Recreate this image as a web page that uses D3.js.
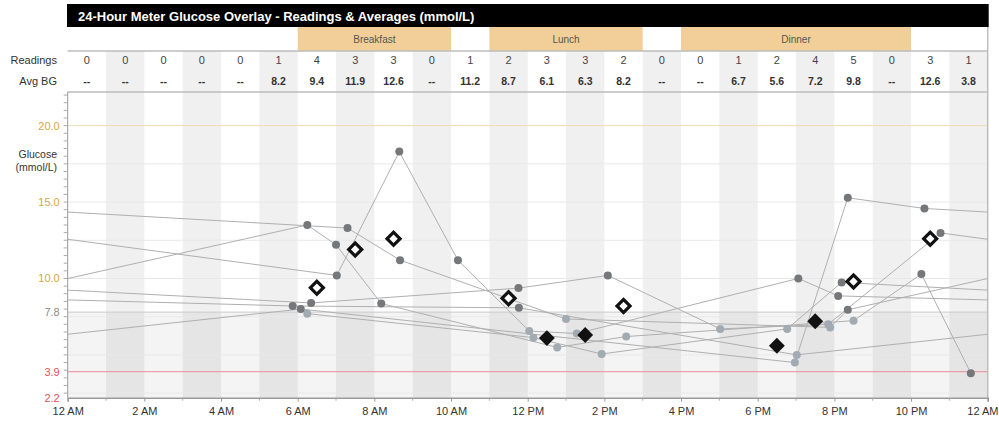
<!DOCTYPE html>
<html>
<head>
<meta charset="utf-8">
<script src="https://cdn.jsdelivr.net/npm/d3@7"></script>
<style>
body { margin: 0; background: #fff; }
text { font-family: "Liberation Sans", Arial, sans-serif; }
</style>
</head>
<body>
<svg id="chart" width="999" height="421"></svg>
<script>
var title = "24-Hour Meter Glucose Overlay - Readings & Averages (mmol/L)";
var readingCounts = [0,0,0,0,0,1,4,3,3,0,1,2,3,3,2,0,0,1,2,4,5,0,3,1];
var avgBG = [null,null,null,null,null,8.2,9.4,11.9,12.6,null,11.2,8.7,6.1,6.3,8.2,null,null,6.7,5.6,7.2,9.8,null,12.6,3.8];
var meals = [
	{ name: "Breakfast", start: 6, end: 10 },
	{ name: "Lunch", start: 11, end: 15 },
	{ name: "Dinner", start: 16, end: 22 }
];
var xTickLabels = ["12 AM","2 AM","4 AM","6 AM","8 AM","10 AM","12 PM","2 PM","4 PM","6 PM","8 PM","10 PM","12 AM"];
var yLabelTicks = [20, 15, 10, 7.8, 3.9, 2.2];
var targetLow = 3.9, targetHigh = 7.8;

// one list of [hour, mmol/L] per day, in date order
var days = [
	[[6.25,7.7],[12.15,6.13],[13.93,5.06],[18.77,6.7],[20.19,9.74]],
	[[6.35,8.4],[11.76,9.37],[14.09,10.2],[17.02,6.7],[19.84,7.0],[22.77,12.98]],
	[[7.02,10.2],[8.65,18.3],[10.18,11.2],[12.04,6.56],[13.28,6.4],[19.06,10.0],[20.1,8.86]],
	[[5.87,8.2],[11.77,8.08],[19.02,5.0]],
	[[6.08,8.0],[18.97,4.5],[20.35,15.28],[22.35,14.58]],
	[[7.3,13.3],[8.67,11.2],[13.0,7.35],[19.89,6.8],[20.35,7.95]],
	[[6.25,13.5],[7.0,12.2],[8.18,8.36],[12.77,5.49],[14.57,6.2],[20.5,7.24],[22.27,10.29],[23.56,3.8]]
];

var svg = d3.select("#chart");
var left = 67.7, right = 987.7, plotTop = 92, plotBottom = 397.7;

var x = d3.scaleLinear().domain([0, 24]).range([left, right]);
var y = d3.scaleLinear().domain([2.2, 22.2]).range([plotBottom, plotTop]);

// column stripes (odd hours)
svg.append("g").selectAll("rect")
	.data(d3.range(1, 24, 2))
	.enter().append("rect")
	.attr("x", function (d) { return x(d); })
	.attr("y", 51)
	.attr("width", x(1) - x(0))
	.attr("height", plotBottom - 51)
	.attr("fill", "#f0f0f0");

// target band shading
svg.append("rect")
	.attr("x", left)
	.attr("y", y(targetHigh))
	.attr("width", right - left)
	.attr("height", plotBottom - y(targetHigh))
	.attr("fill", "#000")
	.attr("fill-opacity", 0.045);

// grid lines
svg.append("g").selectAll("line")
	.data(d3.range(2.5, 20.01, 2.5))
	.enter().append("line")
	.attr("x1", left).attr("x2", right)
	.attr("y1", function (d) { return y(d); })
	.attr("y2", function (d) { return y(d); })
	.attr("stroke", function (d) { return d === 20 ? "#efdcb0" : "#e8e8ec"; })
	.attr("stroke-width", 1);

svg.append("line")
	.attr("x1", left).attr("x2", right)
	.attr("y1", y(targetHigh)).attr("y2", y(targetHigh))
	.attr("stroke", "#cacaca");
svg.append("line")
	.attr("x1", left).attr("x2", right)
	.attr("y1", y(targetLow)).attr("y2", y(targetLow))
	.attr("stroke", "#ee8a9a");

// title bar
svg.append("rect")
	.attr("x", 67).attr("y", 4)
	.attr("width", right - 67 + 1).attr("height", 23)
	.attr("fill", "#000");
svg.append("text")
	.attr("x", 78).attr("y", 20.5)
	.attr("fill", "#fff")
	.attr("font-size", 13)
	.attr("font-weight", "bold")
	.text(title);

// meal row
var meal = svg.append("g").selectAll("g")
	.data(meals)
	.enter().append("g");
meal.append("rect")
	.attr("x", function (d) { return x(d.start); })
	.attr("y", 27)
	.attr("width", function (d) { return x(d.end) - x(d.start); })
	.attr("height", 24)
	.attr("fill", "#f2cf98");
meal.append("text")
	.attr("x", function (d) { return (x(d.start) + x(d.end)) / 2; })
	.attr("y", 42.5)
	.attr("text-anchor", "middle")
	.attr("font-size", 10)
	.attr("fill", "#555")
	.text(function (d) { return d.name; });

// table lines
[51, 92].forEach(function (yy) {
	svg.append("line")
		.attr("x1", left).attr("x2", right)
		.attr("y1", yy).attr("y2", yy)
		.attr("stroke", "#bdbdbd").attr("stroke-width", 1.5);
});
svg.append("line")
	.attr("x1", right).attr("x2", right)
	.attr("y1", 27).attr("y2", plotBottom)
	.attr("stroke", "#bdbdbd").attr("stroke-width", 1.5);

// row labels and values
svg.append("text").attr("x", 57).attr("y", 64)
	.attr("text-anchor", "end").attr("font-size", 11).attr("fill", "#333")
	.text("Readings");
svg.append("text").attr("x", 57).attr("y", 85)
	.attr("text-anchor", "end").attr("font-size", 11).attr("fill", "#333")
	.text("Avg BG");

svg.append("g").selectAll("text")
	.data(readingCounts)
	.enter().append("text")
	.attr("x", function (d, i) { return x(i + 0.5); })
	.attr("y", 64)
	.attr("text-anchor", "middle")
	.attr("font-size", 11)
	.attr("fill", "#444")
	.text(function (d) { return d; });

svg.append("g").selectAll("text")
	.data(avgBG)
	.enter().append("text")
	.attr("x", function (d, i) { return x(i + 0.5); })
	.attr("y", 85)
	.attr("text-anchor", "middle")
	.attr("font-size", 10.5)
	.attr("font-weight", "bold")
	.attr("fill", "#333")
	.text(function (d) { return d === null ? "--" : d.toFixed(1); });

// clip for reading lines
svg.append("clipPath").attr("id", "plot-clip")
	.append("rect")
	.attr("x", left).attr("y", plotTop)
	.attr("width", right - left).attr("height", plotBottom - plotTop);

var lines = svg.append("g").attr("clip-path", "url(#plot-clip)");
var line = d3.line()
	.x(function (d) { return x(d[0]); })
	.y(function (d) { return y(d[1]); });

lines.selectAll("path.day")
	.data(days)
	.enter().append("path")
	.attr("class", "day")
	.attr("d", line)
	.attr("fill", "none")
	.attr("stroke", "#afafaf")
	.attr("stroke-width", 1);

// overnight links, drawn on both sides of midnight
var links = [];
for (var i = 0; i < days.length - 1; i++) {
	var a = days[i][days[i].length - 1];
	var b = days[i + 1][0];
	links.push([a, [b[0] + 24, b[1]]]);
	links.push([[a[0] - 24, a[1]], b]);
}
lines.selectAll("path.link")
	.data(links)
	.enter().append("path")
	.attr("class", "link")
	.attr("d", line)
	.attr("fill", "none")
	.attr("stroke", "#afafaf")
	.attr("stroke-width", 1);

// readings
var points = [];
days.forEach(function (d) { points = points.concat(d); });
svg.append("g").selectAll("circle")
	.data(points)
	.enter().append("circle")
	.attr("cx", function (d) { return x(d[0]); })
	.attr("cy", function (d) { return y(d[1]); })
	.attr("r", 4)
	.attr("fill", function (d) {
		return (d[1] >= targetLow && d[1] <= targetHigh) ? "#a2aab2" : "#76777b";
	});

// hourly averages
var avgPts = avgBG.map(function (v, i) { return { hour: i, v: v, n: readingCounts[i] }; })
	.filter(function (d) { return d.n >= 2; });
var diamond = svg.append("g").selectAll("g")
	.data(avgPts)
	.enter().append("g")
	.attr("transform", function (d) {
		return "translate(" + x(d.hour + 0.5) + "," + y(d.v) + ") rotate(45)";
	});
diamond.append("rect")
	.attr("x", function (d) { return d.v > targetHigh ? -4.6 : -5.6; })
	.attr("y", function (d) { return d.v > targetHigh ? -4.6 : -5.6; })
	.attr("width", function (d) { return d.v > targetHigh ? 9.2 : 11.2; })
	.attr("height", function (d) { return d.v > targetHigh ? 9.2 : 11.2; })
	.attr("fill", function (d) { return d.v > targetHigh ? "#fff" : "#111"; })
	.attr("stroke", "#111")
	.attr("stroke-width", function (d) { return d.v > targetHigh ? 3.2 : 0; });

// y axis
var yAxis = svg.append("g");
yAxis.append("line")
	.attr("x1", left).attr("x2", left)
	.attr("y1", plotTop).attr("y2", plotBottom)
	.attr("stroke", "#999");
yAxis.selectAll("line.minor")
	.data(d3.range(2.5, 22.01, 0.5))
	.enter().append("line")
	.attr("class", "minor")
	.attr("x1", left - 4).attr("x2", left)
	.attr("y1", function (d) { return y(d); })
	.attr("y2", function (d) { return y(d); })
	.attr("stroke", "#aaa");
yAxis.selectAll("text")
	.data(yLabelTicks)
	.enter().append("text")
	.attr("x", left - 8)
	.attr("y", function (d) { return y(d) + 4; })
	.attr("text-anchor", "end")
	.attr("font-size", 11)
	.attr("fill", function (d) {
		if (d >= 10) return "#d8a640";
		if (d > targetLow) return "#8c8c8c";
		return "#e4505c";
	})
	.text(function (d) { return d.toFixed(1); });
yAxis.append("text")
	.attr("x", 57).attr("y", 158)
	.attr("text-anchor", "end").attr("font-size", 10.5).attr("fill", "#333")
	.text("Glucose");
yAxis.append("text")
	.attr("x", 57).attr("y", 171)
	.attr("text-anchor", "end").attr("font-size", 10.5).attr("fill", "#333")
	.text("(mmol/L)");

// x axis
var xAxis = d3.axisBottom(x)
	.tickValues(d3.range(0, 24.01, 2))
	.tickSize(4)
	.tickFormat(function (d, i) { return xTickLabels[i]; });
var gx = svg.append("g")
	.attr("transform", "translate(0," + plotBottom + ")")
	.call(xAxis);
gx.select(".domain").attr("stroke", "#999").attr("stroke-width", 1.5);
gx.selectAll(".tick line").attr("stroke", "#999");
gx.selectAll(".tick text")
	.attr("font-family", "Liberation Sans, Arial, sans-serif")
	.attr("font-size", 11).attr("fill", "#333").attr("dy", "0.9em");
// keep the last label inside the frame
gx.selectAll(".tick text").filter(function (d) { return d === 24; })
	.attr("text-anchor", "end")
	.attr("x", 998 - right);
svg.append("g").selectAll("line")
	.data(d3.range(1, 24, 2))
	.enter().append("line")
	.attr("x1", function (d) { return x(d); })
	.attr("x2", function (d) { return x(d); })
	.attr("y1", plotBottom).attr("y2", plotBottom + 3)
	.attr("stroke", "#aaa");
</script>
</body>
</html>
